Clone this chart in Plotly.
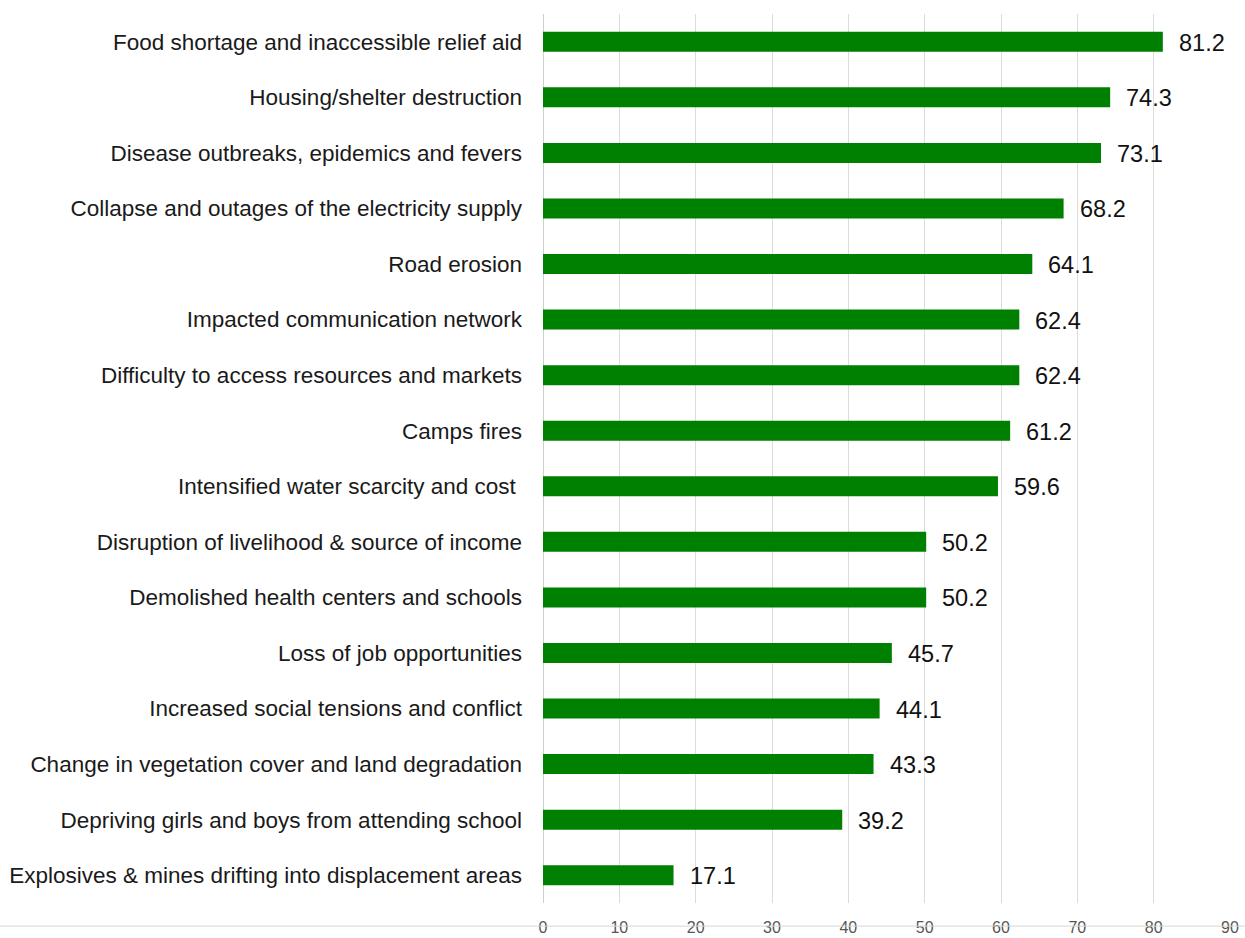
import plotly.graph_objects as go

categories = [
    "Food shortage and inaccessible relief aid",
    "Housing/shelter destruction",
    "Disease outbreaks, epidemics and fevers",
    "Collapse and outages of the electricity supply",
    "Road erosion",
    "Impacted communication network",
    "Difficulty to access resources and markets",
    "Camps fires",
    "Intensified water scarcity and cost ",
    "Disruption of livelihood & source of income",
    "Demolished health centers and schools",
    "Loss of job opportunities",
    "Increased social tensions and conflict",
    "Change in vegetation cover and land degradation",
    "Depriving girls and boys from attending school",
    "Explosives & mines drifting into displacement areas",
]
values = [81.2, 74.3, 73.1, 68.2, 64.1, 62.4, 62.4, 61.2, 59.6, 50.2, 50.2, 45.7, 44.1, 43.3, 39.2, 17.1]
tick_vals = [0, 10, 20, 30, 40, 50, 60, 70, 80, 90]

FONT = "Liberation Sans, Arial, Helvetica, sans-serif"

fig = go.Figure()
fig.add_trace(go.Bar(
    x=values, y=categories, orientation="h",
    marker=dict(color="#008000", line=dict(width=0)),
    width=0.36,
    hoverinfo="x+y",
))

for c, v in zip(categories, values):
    fig.add_annotation(
        x=v, y=c, text=f"{v:.1f}", showarrow=False,
        xanchor="left", xshift=14, yshift=-1,
        font=dict(family=FONT, size=23.5, color="#111111"),
    )

fig.add_shape(type="line", xref="paper", yref="paper",
              x0=-0.8, x1=1.05, y0=-0.026, y1=-0.026,
              line=dict(color="#d6d6d6", width=1))

fig.update_layout(
    width=1245, height=938,
    margin=dict(l=543, r=15, t=14, b=35),
    plot_bgcolor="white", paper_bgcolor="white",
    showlegend=False,
)
fig.update_xaxes(
    range=[0, 90], tickvals=tick_vals, ticktext=[str(t) for t in tick_vals],
    showgrid=True, gridcolor="#dcdcdc", gridwidth=1,
    zeroline=True, zerolinecolor="#cfcfcf", zerolinewidth=1,
    showline=False, ticks="", automargin=False,
    tickfont=dict(family=FONT, size=16, color="#555555"),
    ticklabelstandoff=13,
)
fig.update_yaxes(
    autorange="reversed", showgrid=False, ticks="", showline=False, automargin=False,
    tickfont=dict(family=FONT, size=22.5, color="#1a1a1a"),
    ticklabelstandoff=20,
)

fig.write_html("out.html", config={"displayModeBar": False},
               post_script="document.body.style.margin='0';")
